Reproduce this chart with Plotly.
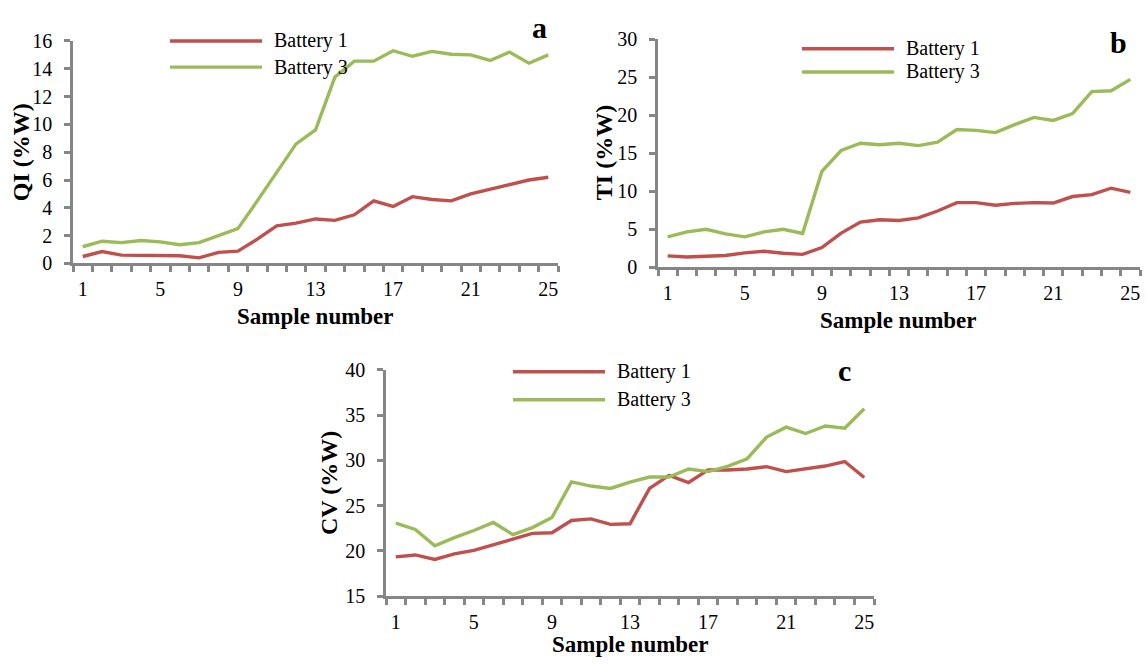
import plotly.graph_objects as go

samples = list(range(1, 26))

qi_b1 = [0.5, 0.85, 0.6, 0.6, 0.6, 0.55, 0.4, 0.8, 0.88, 1.75, 2.7, 2.9, 3.2, 3.1, 3.5,
         4.5, 4.1, 4.8, 4.6, 4.5, 5.0, 5.35, 5.7, 6.0, 6.2]
qi_b3 = [1.2, 1.6, 1.5, 1.65, 1.55, 1.35, 1.5, 2.0, 2.5, 4.5, 6.5, 8.6, 9.6, 13.4, 14.55,
         14.55, 15.3, 14.9, 15.25, 15.05, 15.0, 14.6, 15.2, 14.4, 15.0]

ti_b1 = [1.5, 1.35, 1.45, 1.55, 1.9, 2.1, 1.85, 1.7, 2.6, 4.5, 5.95, 6.25, 6.15, 6.5, 7.4,
         8.5, 8.5, 8.15, 8.4, 8.5, 8.45, 9.3, 9.55, 10.4, 9.85]
ti_b3 = [4.0, 4.65, 5.0, 4.4, 4.0, 4.65, 5.0, 4.45, 12.6, 15.35, 16.3, 16.1, 16.3, 16.0, 16.45,
         18.1, 18.0, 17.7, 18.75, 19.7, 19.3, 20.2, 23.1, 23.2, 24.7]

cv_b1 = [19.34, 19.55, 19.05, 19.66, 20.05, 20.7, 21.37, 21.93, 22.0, 23.36, 23.53, 22.93, 23.0,
         26.9, 28.33, 27.55, 28.94, 28.94, 29.05, 29.3, 28.76, 29.05, 29.37, 29.87, 28.1]
cv_b3 = [23.07, 22.36, 20.55, 21.47, 22.25, 23.14, 21.8, 22.57, 23.68, 27.62, 27.16, 26.9, 27.6,
         28.16, 28.16, 29.05, 28.76, 29.33, 30.18, 32.57, 33.67, 32.96, 33.8, 33.56, 35.7]

series_names = ["Battery 1", "Battery 3"]
x_tick_labels = [1, 5, 9, 13, 17, 21, 25]
x_title = "Sample number"

RED = "#C0504D"
GREEN = "#9BBB59"
AXIS = "#868686"
FONT = "Liberation Serif"
W, H = 1146, 670

panels = [
    # letter, b1, b3, ytitle, yrange, ydtick, x px (l,r), y px (top,bottom), letter pos,
    # y-title x, x-title y
    ("a", qi_b1, qi_b3, "QI (%W)", [0, 16], 2, (73, 558), (31, 261), (539, 17), 21, 316, 1),
    ("b", ti_b1, ti_b3, "TI (%W)", [0, 30], 5, (658, 1140), (29, 265), (1118, 33), 604, 320, 2),
    ("c", cv_b1, cv_b3, "CV (%W)", [15, 40], 5, (386, 874), (371, 605), (844, 372), 329, 655, 3),
]

fig = go.Figure()
shapes = []
annotations = []

for (letter, b1, b3, ytitle, yr, ydt, xd, yd, lp, ytx, xty, n) in panels:
    xa = "x" if n == 1 else "x%d" % n
    ya = "y" if n == 1 else "y%d" % n
    xo = "x%d" % (n + 3)          # overlay axis carrying the category labels
    for vals, col, nm in ((b1, RED, series_names[0]), (b3, GREEN, series_names[1])):
        fig.add_trace(go.Scatter(x=samples, y=vals, mode="lines", name=nm,
                                 line=dict(color=col, width=3.4), xaxis=xa, yaxis=ya,
                                 showlegend=False))
    # invisible trace so the overlay label axis is drawn
    fig.add_trace(go.Scatter(x=samples, y=b1, mode="lines", line=dict(width=0), opacity=0,
                             xaxis=xo, yaxis=ya, hoverinfo="skip", showlegend=False))
    sx = "" if n == 1 else str(n)
    xdom = [xd[0] / W, xd[1] / W]
    ydom = [1 - yd[1] / H, 1 - yd[0] / H]
    # main x axis: line + tick marks between categories
    fig.layout["xaxis" + sx] = dict(
        domain=xdom, range=[0.5, 25.5], anchor=ya,
        tickmode="linear", tick0=0.5, dtick=1, ticks="outside", ticklen=6,
        tickcolor=AXIS, tickwidth=2.5, showticklabels=False,
        showline=True, linecolor=AXIS, linewidth=2.5, showgrid=False, zeroline=False,
    )
    # overlay x axis: category labels
    fig.layout["xaxis%d" % (n + 3)] = dict(
        domain=xdom, range=[0.5, 25.5], anchor=ya, overlaying=xa, side="bottom",
        tickmode="array", tickvals=x_tick_labels, ticktext=[str(v) for v in x_tick_labels],
        ticks="", ticklabelstandoff=12,
        showline=False, showgrid=False, zeroline=False,
        tickfont=dict(family=FONT, size=20, color="#000"),
    )
    fig.layout["yaxis" + sx] = dict(
        domain=ydom, range=yr, anchor=xa, dtick=ydt, tick0=yr[0],
        ticks="outside", ticklen=6, tickcolor=AXIS, tickwidth=2.5, ticklabelstandoff=8,
        showline=True, linecolor=AXIS, linewidth=2.5, showgrid=False, zeroline=False,
        tickfont=dict(family=FONT, size=20, color="#000"),
    )
    # axis titles
    annotations.append(dict(text="<b>" + ytitle + "</b>", xref="paper", yref="paper",
                            x=ytx / W, y=1 - (yd[0] + yd[1]) / 2 / H, textangle=-90,
                            xanchor="center", yanchor="middle", showarrow=False,
                            font=dict(family=FONT, size=24, color="#000")))
    annotations.append(dict(text="<b>" + x_title + "</b>", xref="paper", yref="paper",
                            x=(xd[0] + xd[1]) / 2 / W, y=1 - xty / H,
                            xanchor="center", yanchor="middle", showarrow=False,
                            font=dict(family=FONT, size=23, color="#000")))
    annotations.append(dict(text="<b>" + letter + "</b>", xref="paper", yref="paper",
                            x=lp[0] / W, y=1 - lp[1] / H,
                            xanchor="center", yanchor="middle", showarrow=False,
                            font=dict(family=FONT, size=30, color="#000")))

# per-panel legends
legend_pos = [(170, 262, 31, 58), (802, 894, 39, 63), (513, 605, 373, 402)]
for (x0, x1, y1, y3) in legend_pos:
    for yy, col, nm in ((y1, RED, series_names[0]), (y3, GREEN, series_names[1])):
        shapes.append(dict(type="line", xref="paper", yref="paper",
                           x0=x0 / W, x1=x1 / W, y0=1 - yy / H, y1=1 - yy / H,
                           line=dict(color=col, width=3.4)))
        annotations.append(dict(text=nm, xref="paper", yref="paper",
                                x=(x1 + 10) / W, y=1 - yy / H, xanchor="left", yanchor="middle",
                                showarrow=False, font=dict(family=FONT, size=20, color="#000")))

fig.update_layout(width=W, height=H, margin=dict(l=0, r=0, t=0, b=0),
                  paper_bgcolor="white", plot_bgcolor="white",
                  shapes=shapes, annotations=annotations, showlegend=False)

fig.write_html("out.html",
               post_script="document.body.style.margin='0';document.body.style.overflow='hidden';")
